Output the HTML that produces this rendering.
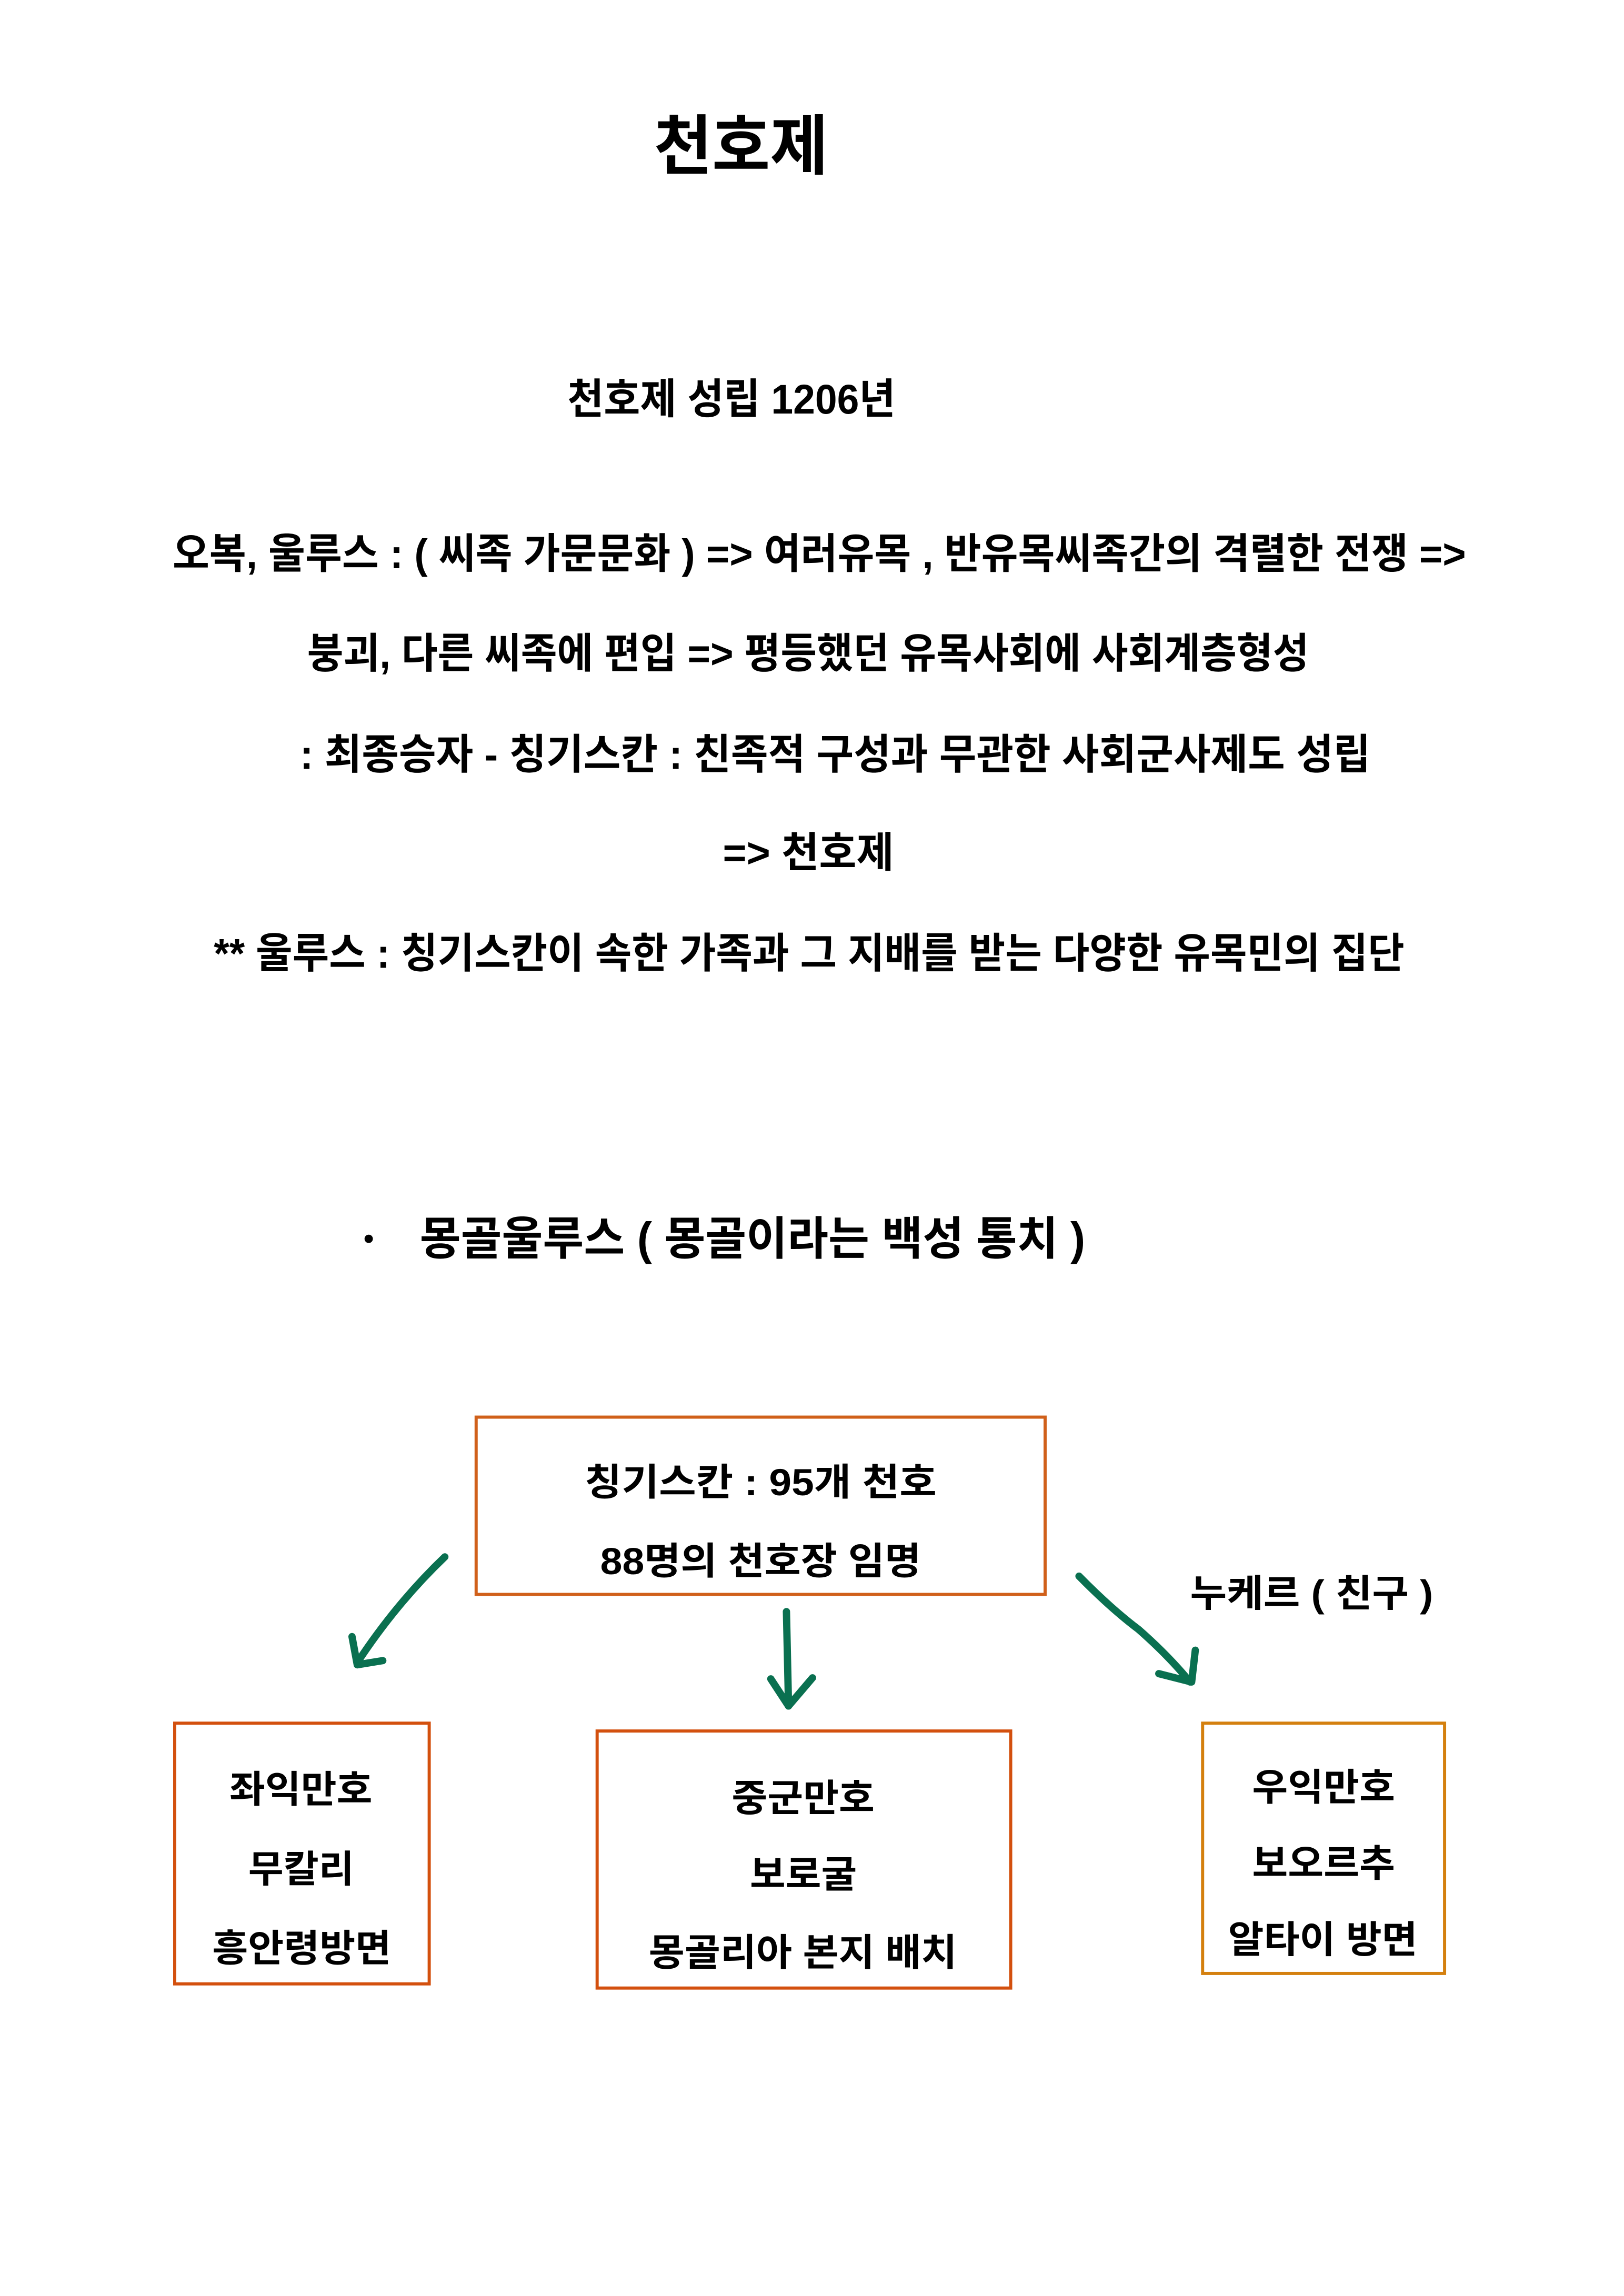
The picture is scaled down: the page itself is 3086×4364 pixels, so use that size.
<!DOCTYPE html>
<html><head><meta charset="utf-8"><style>
html,body{margin:0;padding:0;background:#fff}
svg{display:block}
text{font-family:"Liberation Sans","Noto Sans CJK KR",sans-serif;font-weight:bold;fill:#000}
</style></head><body>
<svg width="3086" height="4364" viewBox="0 0 3086 4364" xmlns="http://www.w3.org/2000/svg">
<rect width="3086" height="4364" fill="#fff"/>
<g transform="scale(0.991)">
<text x="1254" y="324" font-size="125" textLength="334" lengthAdjust="spacingAndGlyphs">천호제</text>
<text x="1088" y="793" font-size="80" textLength="629" lengthAdjust="spacingAndGlyphs">천호제 성립 1206년</text>
<text x="331" y="1090" font-size="80" textLength="2480" lengthAdjust="spacingAndGlyphs">오복, 울루스 : ( 씨족 가문문화 ) =>  여러유목 ,  반유목씨족간의 격렬한 전쟁 =></text>
<text x="589" y="1281" font-size="80" textLength="1921" lengthAdjust="spacingAndGlyphs">붕괴, 다른 씨족에 편입 => 평등했던 유목사회에 사회계층형성</text>
<text x="575" y="1475" font-size="80" textLength="2053" lengthAdjust="spacingAndGlyphs">: 최종승자 - 칭기스칸  : 친족적 구성과 무관한  사회군사제도 성립</text>
<text x="1386" y="1663" font-size="80" textLength="328" lengthAdjust="spacingAndGlyphs">=>  천호제</text>
<text x="410" y="1856" font-size="80" textLength="2283" lengthAdjust="spacingAndGlyphs">** 울루스  : 칭기스칸이 속한 가족과 그 지배를 받는 다양한 유목민의 집단</text>
<circle cx="707" cy="2376" r="8" fill="#000"/>
<text x="805" y="2406" font-size="88" textLength="1276" lengthAdjust="spacingAndGlyphs">몽골울루스 ( 몽골이라는 백성 통치 )</text>

<g fill="none" stroke-width="6">
<rect x="913" y="2718" width="1091" height="340" stroke="#d0601a"/>
<rect x="335" y="3305" width="488" height="500" stroke="#d3500e"/>
<rect x="1145" y="3320" width="793" height="493" stroke="#d3500e"/>
<rect x="2306" y="3305" width="464" height="480" stroke="#d4800f"/>
</g>

<g font-size="72" transform="translate(0,25)">
<text x="1121" y="2843" textLength="675" lengthAdjust="spacingAndGlyphs">칭기스칸  : 95개 천호</text>
<text x="1151" y="2994" textLength="615" lengthAdjust="spacingAndGlyphs">88명의 천호장 임명</text>
<text x="440" y="3432" textLength="274" lengthAdjust="spacingAndGlyphs">좌익만호</text>
<text x="476" y="3585" textLength="203" lengthAdjust="spacingAndGlyphs">무칼리</text>
<text x="407" y="3737" textLength="343" lengthAdjust="spacingAndGlyphs">흥안령방면</text>
<text x="1403" y="3449" textLength="274" lengthAdjust="spacingAndGlyphs">중군만호</text>
<text x="1438" y="3595" textLength="205" lengthAdjust="spacingAndGlyphs">보로굴</text>
<text x="1244" y="3745" textLength="591" lengthAdjust="spacingAndGlyphs">몽골리아 본지 배치</text>
<text x="2401" y="3428" textLength="274" lengthAdjust="spacingAndGlyphs">우익만호</text>
<text x="2401" y="3574" textLength="274" lengthAdjust="spacingAndGlyphs">보오르추</text>
<text x="2355" y="3720" textLength="363" lengthAdjust="spacingAndGlyphs">알타이 방면</text>
<text x="2282" y="3056" textLength="466" lengthAdjust="spacingAndGlyphs">누케르 ( 친구 )</text>
</g>

<g fill="none" stroke="#0a7050" stroke-width="14" stroke-linecap="round" stroke-linejoin="round" transform="translate(0,25)">
<path d="M853 2961 Q760 3050 685 3164"/>
<path d="M675 3114 L685 3168 L734 3160"/>
<path d="M1508 3066 L1512 3247"/>
<path d="M1478 3195 L1512 3247 L1558 3193"/>
<path d="M2069 2998 Q2130 3060 2183 3100 Q2240 3150 2282 3201"/>
<path d="M2222 3185 L2285 3201 L2292 3140"/>
</g>
</g>
</svg>
</body></html>
